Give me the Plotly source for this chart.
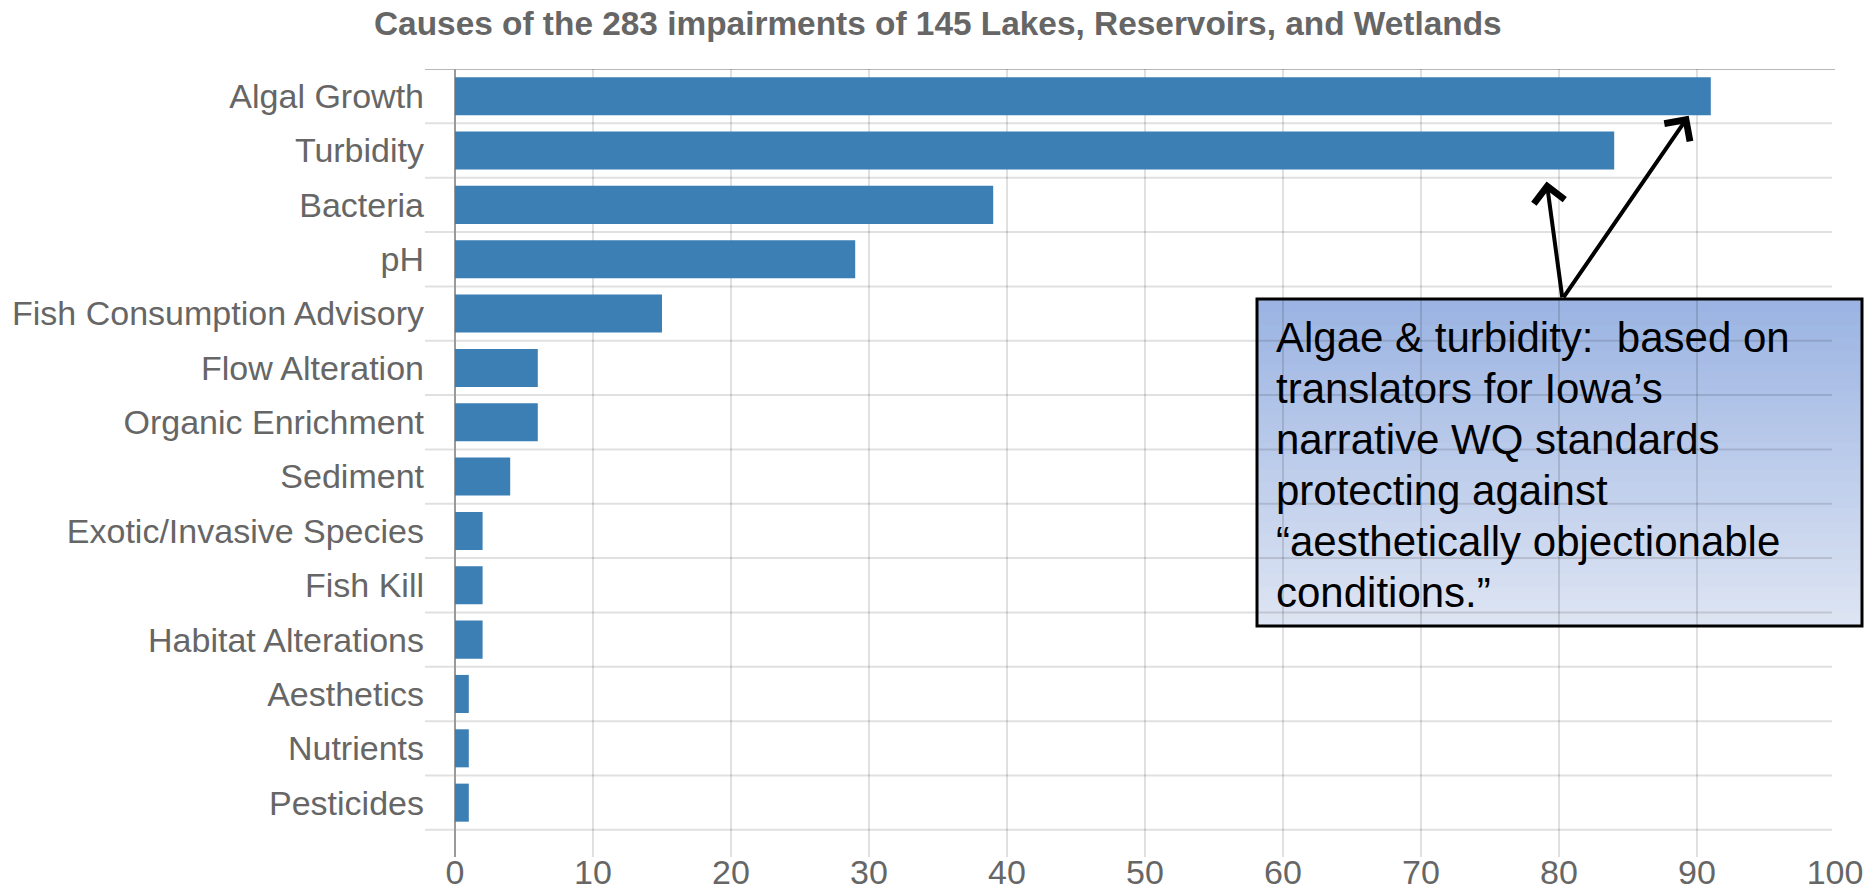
import plotly.graph_objects as go

# ---- data ----
categories = ["Algal Growth", "Turbidity", "Bacteria", "pH", "Fish Consumption Advisory",
              "Flow Alteration", "Organic Enrichment", "Sediment", "Exotic/Invasive Species",
              "Fish Kill", "Habitat Alterations", "Aesthetics", "Nutrients", "Pesticides"]
counts = [91, 84, 39, 29, 15, 6, 6, 4, 2, 2, 2, 1, 1, 1]
x_ticks = [0, 10, 20, 30, 40, 50, 60, 70, 80, 90, 100]
title_text = "Causes of the 283 impairments of 145 Lakes, Reservoirs, and Wetlands"
note_lines = ["Algae & turbidity:  based on", "translators for Iowa\u2019s",
              "narrative WQ standards", "protecting against",
              "\u201caesthetically objectionable", "conditions.\u201d"]

W, H = 1873, 890
ML, MR, MT, MB = 455, 38, 69, 33
PW, PH = W - ML - MR, H - MT - MB

def px_x(p):  # pixel -> paper x
    return (p - ML) / PW

def px_y(p):  # pixel -> paper y
    return (H - MB - p) / PH

FONT = "Arial, 'Liberation Sans', sans-serif"
BAR = "#3b7fb5"
GRID = "rgba(0,0,0,0.12)"

fig = go.Figure(go.Bar(
    x=counts, y=categories, orientation="h",
    marker=dict(color=BAR, line=dict(width=0)),
    width=0.7,
))

n = len(categories)
shapes = []

# gradient note box (drawn below the grid so grid shows through)
bx0, bx1, by0, by1 = px_x(1257), px_x(1862), px_y(626), px_y(299)
top_c = (154, 179, 226)
bot_c = (222, 229, 243)
N = 50
step = (by1 - by0) / N
for k in range(N):
    t = (k + 0.5) / N
    c = tuple(int(round(top_c[j] + (bot_c[j] - top_c[j]) * t)) for j in range(3))
    y_top = by1 - step * k
    y_bot = max(by0, y_top - step * 1.8)
    shapes.append(dict(type="rect", xref="paper", yref="paper",
                       x0=bx0, x1=bx1, y0=y_bot, y1=y_top, layer="below",
                       fillcolor="rgb(%d,%d,%d)" % c, line=dict(width=0)))

# row dividers extending a bit into the label area
for i in range(n + 1):
    shapes.append(dict(type="line", xref="paper", yref="y",
                       x0=px_x(425), x1=px_x(1832) if i > 0 else 1.0,
                       y0=i - 0.5, y1=i - 0.5, layer="below",
                       line=dict(color="rgba(0,0,0,0.28)" if i == 0 else GRID, width=2)))

shapes.append(dict(type="rect", xref="paper", yref="paper",
                   x0=bx0, x1=bx1, y0=by0, y1=by1, layer="above",
                   fillcolor="rgba(0,0,0,0)", line=dict(color="black", width=3)))

annotations = [
    dict(text="<b>" + title_text + "</b>", xref="paper", yref="paper",
         x=px_x(937.5), y=px_y(23), xanchor="center", yanchor="middle",
         showarrow=False, font=dict(family=FONT, size=33.4, color="#666666")),
]
# note text, one line per annotation for exact line spacing
for k, line in enumerate(note_lines):
    annotations.append(dict(text=line, xref="paper", yref="paper",
                            x=px_x(1274), y=px_y(337 + 51 * k), xanchor="left",
                            yanchor="middle", align="left", showarrow=False,
                            font=dict(family=FONT, size=42, color="black")))
# arrows from the note box to the two bars
for tip_x, tip_y in [(89.4, 0.36), (79.1, 1.57)]:
    annotations.append(dict(x=tip_x, y=tip_y, xref="x", yref="y",
                            ax=80.25, ay=3.73, axref="x", ayref="y",
                            text="", showarrow=True, arrowhead=4, arrowsize=1.5,
                            arrowwidth=4, arrowcolor="black", standoff=0))

fig.update_layout(
    width=W, height=H,
    margin=dict(l=ML, r=MR, t=MT, b=MB, autoexpand=False),
    paper_bgcolor="white", plot_bgcolor="rgba(0,0,0,0)",
    showlegend=False,
    bargap=0.3,
    font=dict(family=FONT, color="#666666"),
    shapes=shapes, annotations=annotations,
    xaxis=dict(range=[0, 100], tickvals=x_ticks, showgrid=True, gridcolor=GRID,
               gridwidth=2, zeroline=True, zerolinecolor="#9a9a9a", zerolinewidth=2,
               showline=False, ticks="", ticklabelstandoff=-8,
               tickfont=dict(size=34, color="#666666"),
               automargin=False, fixedrange=True),
    yaxis=dict(categoryorder="array", categoryarray=categories,
               range=[n, -0.5], showgrid=False, zeroline=False, showline=False,
               ticks="", ticklabelstandoff=30, tickfont=dict(size=34, color="#666666"),
               automargin=False, fixedrange=True),
)

fig.write_html("out.html", config={"displayModeBar": False},
               post_script="document.body.style.margin='0';document.body.style.overflow='hidden';")
